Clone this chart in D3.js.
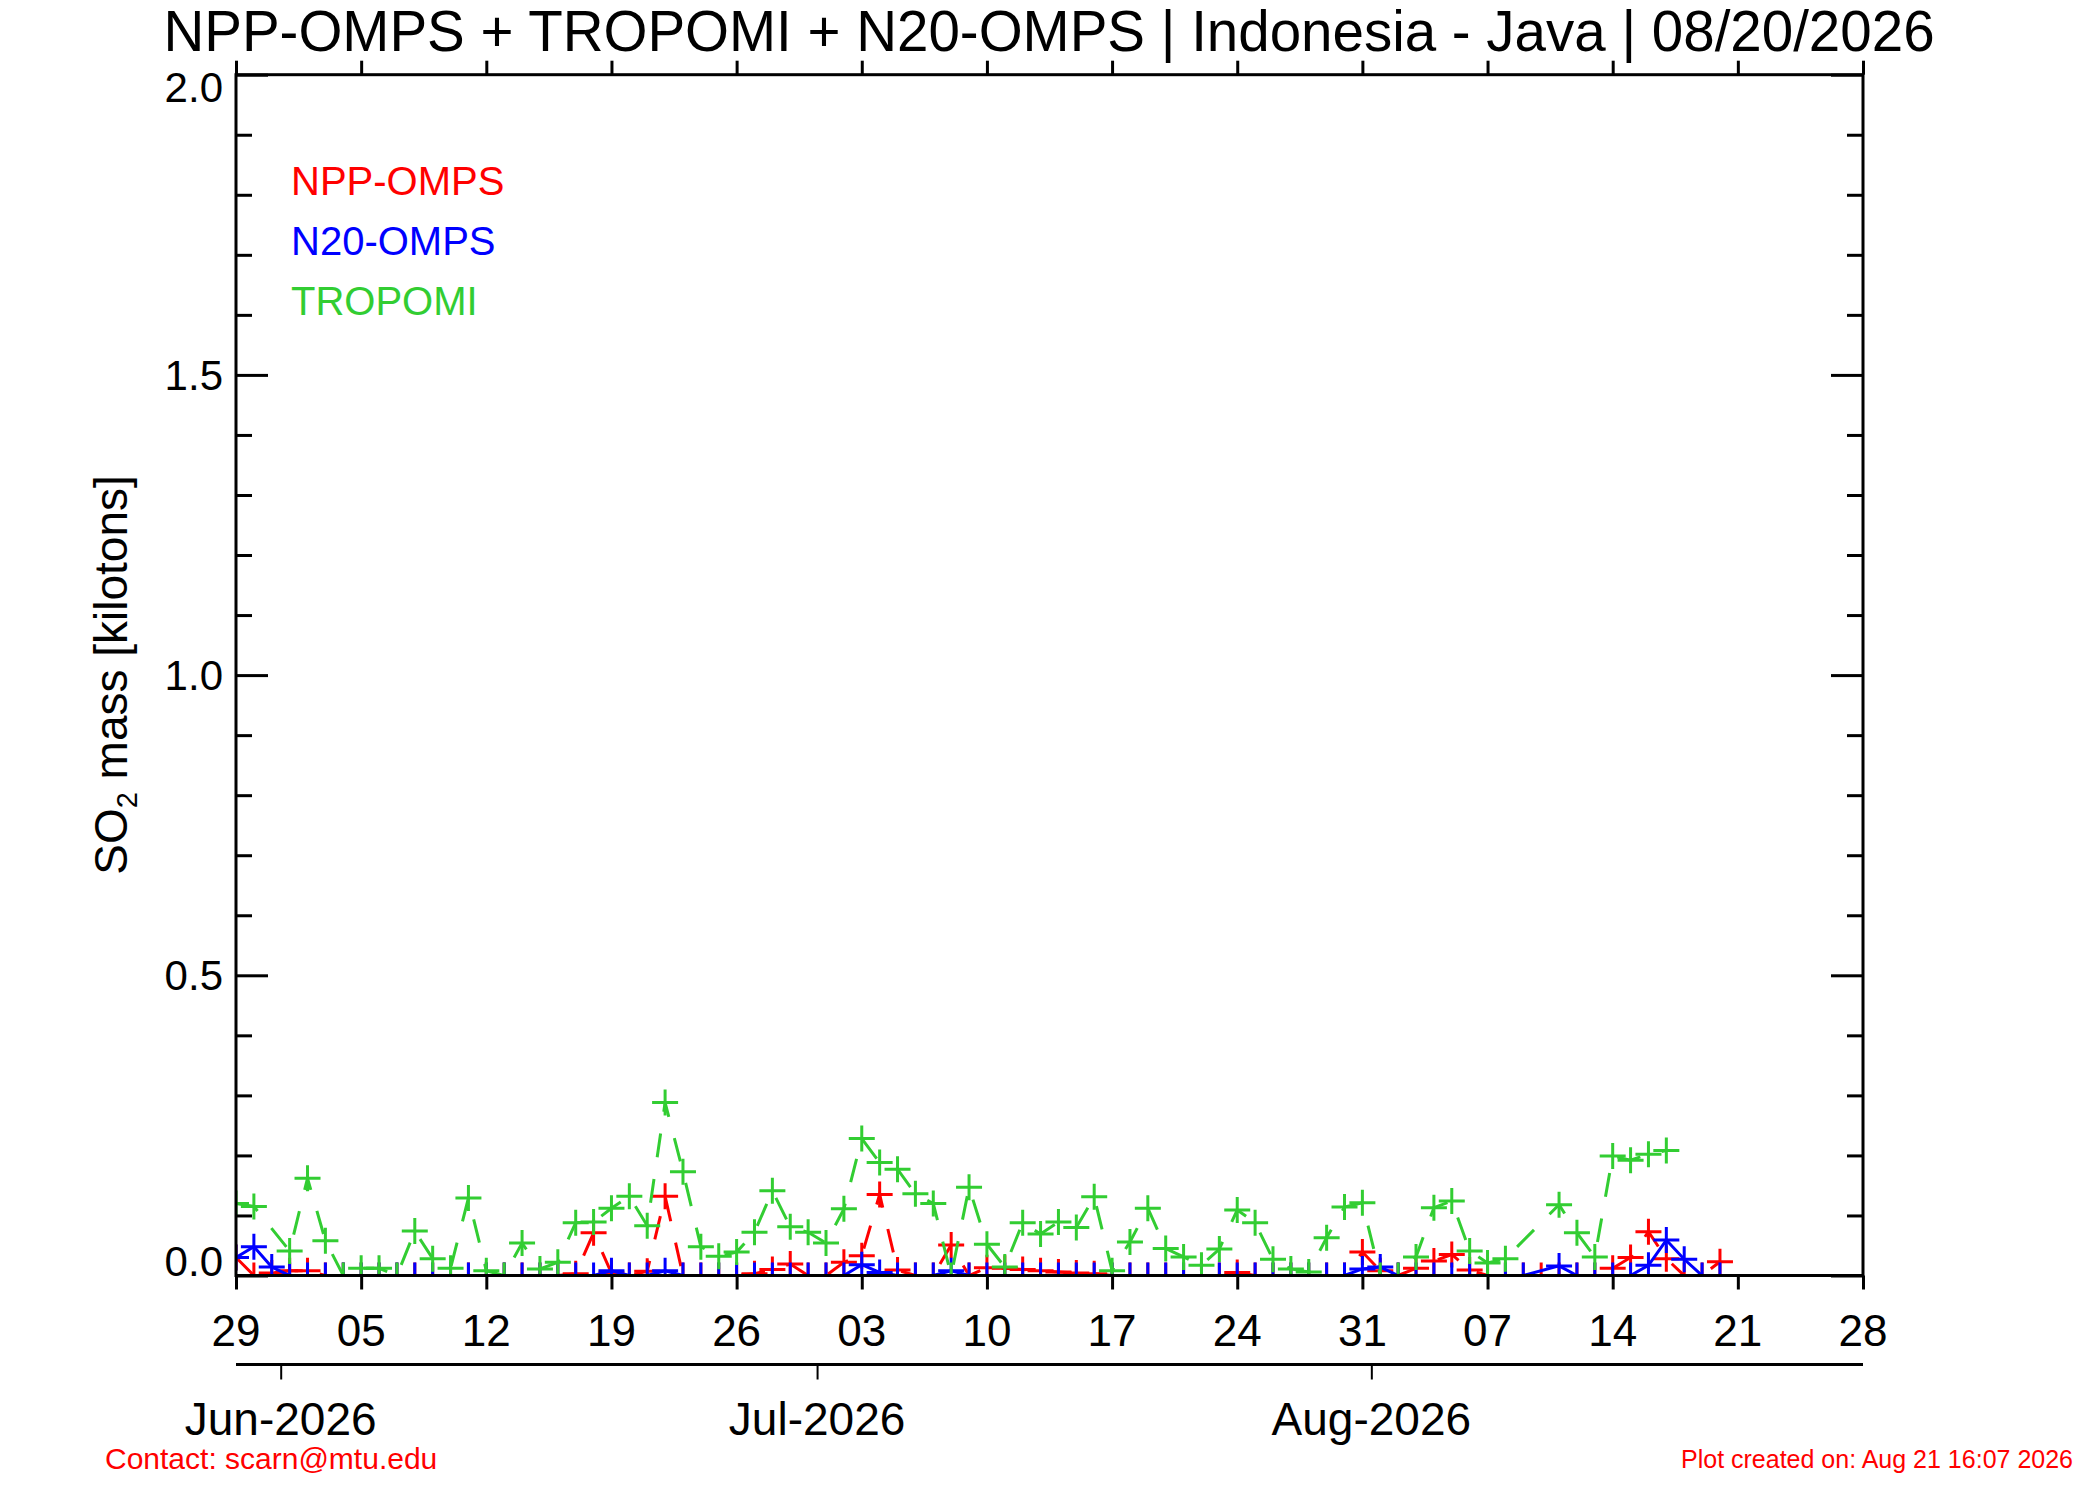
<!DOCTYPE html>
<html><head><meta charset="utf-8">
<script src="https://cdn.jsdelivr.net/npm/d3@7"></script>
<style>
body{margin:0;background:#fff}
svg{display:block}
text{font-family:"Liberation Sans",Arial,Helvetica,sans-serif}
</style>
</head><body>
<svg id="chart" width="2100" height="1500"></svg>
<script>
// ---------- data ----------
const firstDay = "2026-05-29";
const lastAxisDay = "2026-08-28";
const titleText = "NPP-OMPS + TROPOMI + N20-OMPS | Indonesia - Java | 08/20/2026";
const yLabelMain = "SO";
const yLabelSub = "2";
const yLabelRest = " mass [kilotons]";

// daily values starting 2026-05-29 (null = no observation)
const nppOmps = [
 0.03, 0, 0.004, 0.008, 0.008, 0, 0, 0, 0, 0,
 0, 0, 0, 0, 0, 0, 0, 0, 0, 0.003,
 0.071, 0.004, 0, 0.007, 0.132, 0, 0, 0, 0, 0.003,
 0.01, 0.019, 0, 0, 0.022, 0.033, 0.135, 0.009, 0, 0,
 0.051, 0, 0.013, 0.012, 0.01, 0.008, 0.006, 0.004, 0.003, 0,
 0, 0, 0, 0, 0, 0, 0.005, 0, 0, 0,
 0, 0, 0, 0.039, 0.008, 0, 0.012, 0.024, 0.035, 0.009,
 0, 0, 0, 0, 0, 0, 0, 0.012, 0.03, 0.073,
 0.028, 0, 0, 0.023];
const n20Omps = [
 0.03, 0.048, 0.014, 0, 0, 0, 0, 0, 0, 0,
 0, 0, 0, 0, 0, 0, 0, 0, 0, 0,
 0, 0.008, 0, 0, 0.008, 0, 0, 0, 0, 0,
 0, 0, 0, 0, 0, 0.018, 0.005, 0, 0, 0,
 0.008, 0, 0, 0, 0, 0, 0, 0, 0, 0,
 0, 0, 0, 0, 0, 0, 0, 0, 0, 0,
 0, 0, 0, 0.011, 0.014, 0, 0, 0, 0, 0,
 0, 0, 0, null, 0.016, 0, 0, 0, 0, 0.017,
 0.059, 0.027, 0, 0];
const tropomi = [
 0.12, 0.115, null, 0.041, 0.162, 0.058, 0.0, 0.012, 0.012, 0.0,
 0.074, 0.028, 0.012, 0.129, 0.008, 0.0, 0.054, 0.011, 0.022, 0.088,
 0.089, 0.112, 0.132, 0.083, 0.288, 0.173, 0.048, 0.032, 0.039, 0.072,
 0.141, 0.081, 0.072, 0.054, 0.111, 0.228, 0.188, 0.177, 0.136, 0.12,
 0.0, 0.147, 0.052, 0.014, 0.088, 0.069, 0.089, 0.08, 0.131, 0.008,
 0.056, 0.112, 0.045, 0.031, 0.017, 0.044, 0.109, 0.088, 0.027, 0.011,
 0.006, 0.063, 0.114, 0.121, 0.0, 0.0, 0.031, 0.113, 0.124, 0.041,
 0.021, 0.028, null, null, 0.118, 0.071, 0.031, 0.199, 0.192, 0.202,
 0.208, null, null, null];

const seriesNames = ["NPP-OMPS", "N20-OMPS", "TROPOMI"];
const seriesColors = ["#ff0000", "#0000ff", "#32cd32"];
const seriesDashed = [true, false, true];

const yMajorTicks = [0, 0.5, 1.0, 1.5, 2.0];
const yMajorLabels = ["0.0", "0.5", "1.0", "1.5", "2.0"];
const yMinorTicks = [0.1,0.2,0.3,0.4,0.6,0.7,0.8,0.9,1.1,1.2,1.3,1.4,1.6,1.7,1.8,1.9];
const weekTicks = ["2026-05-29","2026-06-05","2026-06-12","2026-06-19","2026-06-26","2026-07-03","2026-07-10",
                   "2026-07-17","2026-07-24","2026-07-31","2026-08-07","2026-08-14","2026-08-21","2026-08-28"];
const weekLabels = ["29","05","12","19","26","03","10","17","24","31","07","14","21","28"];
const monthTicks = ["2026-06-01","2026-07-01","2026-08-01"];
const monthLabels = ["Jun-2026","Jul-2026","Aug-2026"];
const contactText = "Contact: scarn@mtu.edu";
const createdText = "Plot created on: Aug 21 16:07 2026";

// ---------- layout ----------
const L = 236, R = 1863, T = 74.7, B = 1275.5;
const noon = s => new Date(s + "T12:00:00Z");
const midnight = s => new Date(s + "T00:00:00Z");

const x = d3.scaleUtc().domain([noon(firstDay), noon(lastAxisDay)]).range([L, R]);
const y = d3.scaleLinear().domain([0, 2]).range([B, T]);

const svg = d3.select("#chart");
svg.append("rect").attr("width", 2100).attr("height", 1500).attr("fill", "#fff");

const defs = svg.append("defs");
defs.append("clipPath").attr("id", "plotclip")
  .append("rect").attr("x", L).attr("y", T).attr("width", R - L).attr("height", B - T);

// ---------- series ----------
const day0 = noon(firstDay);
const toPoints = arr => arr.map((v, i) => ({date: d3.utcDay.offset(day0, i), v}))
                           .filter(d => d.v !== null);
const allSeries = [nppOmps, n20Omps, tropomi];

const line = d3.line().x(d => x(d.date)).y(d => y(d.v));
const plotG = svg.append("g").attr("clip-path", "url(#plotclip)");
allSeries.forEach((arr, k) => {
  const pts = toPoints(arr);
  const g = plotG.append("g");
  g.append("path").datum(pts).attr("d", line)
    .attr("fill", "none").attr("stroke", seriesColors[k]).attr("stroke-width", 3)
    .attr("stroke-dasharray", seriesDashed[k] ? "24,22" : null);
  g.selectAll("path.mk").data(pts).join("path").attr("class", "mk")
    .attr("d", d => `M${x(d.date) - 13},${y(d.v)}H${x(d.date) + 13}M${x(d.date)},${y(d.v) - 13}V${y(d.v) + 13}`)
    .attr("stroke", seriesColors[k]).attr("stroke-width", 3).attr("fill", "none");
});

// ---------- axes ----------
const axG = svg.append("g").attr("stroke", "#000").attr("fill", "none");
axG.append("rect").attr("x", L).attr("y", T).attr("width", R - L).attr("height", B - T)
  .attr("stroke-width", 3);

function styleAxis(g) {
  g.select(".domain").remove();
  g.selectAll("line").attr("stroke", "#000").attr("stroke-width", 3);
  g.selectAll("text").remove();
}
svg.append("g").attr("transform", `translate(${L},0)`)
  .call(d3.axisLeft(y).tickValues(yMajorTicks).tickSize(-32).tickFormat("")).call(styleAxis);
svg.append("g").attr("transform", `translate(${L},0)`)
  .call(d3.axisLeft(y).tickValues(yMinorTicks).tickSize(-16).tickFormat("")).call(styleAxis);
svg.append("g").attr("transform", `translate(${R},0)`)
  .call(d3.axisRight(y).tickValues(yMajorTicks).tickSize(-32).tickFormat("")).call(styleAxis);
svg.append("g").attr("transform", `translate(${R},0)`)
  .call(d3.axisRight(y).tickValues(yMinorTicks).tickSize(-16).tickFormat("")).call(styleAxis);

const weekDates = weekTicks.map(noon);
svg.append("g").attr("transform", `translate(0,${B})`)
  .call(d3.axisBottom(x).tickValues(weekDates).tickSize(14).tickFormat("")).call(styleAxis);
svg.append("g").attr("transform", `translate(0,${T})`)
  .call(d3.axisTop(x).tickValues(weekDates).tickSize(14).tickFormat("")).call(styleAxis);

// y labels
svg.append("g").selectAll("text").data(yMajorTicks).join("text")
  .attr("x", L - 13)
  .attr("y", (d, i) => i === 0 ? y(d) : (i === yMajorTicks.length - 1 ? y(d) + 27 : y(d) + 15))
  .attr("text-anchor", "end").attr("font-size", 42).attr("fill", "#000")
  .text((d, i) => yMajorLabels[i]);

// week labels
svg.append("g").selectAll("text").data(weekDates).join("text")
  .attr("x", d => x(d)).attr("y", 1346)
  .attr("text-anchor", "middle").attr("font-size", 44).attr("fill", "#000")
  .text((d, i) => weekLabels[i]);

// month axis
const mY = 1364.5;
svg.append("line").attr("x1", L).attr("x2", R).attr("y1", mY).attr("y2", mY)
  .attr("stroke", "#000").attr("stroke-width", 3);
const monthDates = monthTicks.map(midnight);
svg.append("g").attr("transform", `translate(0,${mY})`)
  .call(d3.axisBottom(x).tickValues(monthDates).tickSize(15).tickFormat("")).call(g => {
    g.select(".domain").remove();
    g.selectAll("line").attr("stroke", "#000").attr("stroke-width", 2);
  });
svg.append("g").selectAll("text").data(monthDates).join("text")
  .attr("x", d => x(d)).attr("y", 1435)
  .attr("text-anchor", "middle").attr("font-size", 46).attr("fill", "#000")
  .text((d, i) => monthLabels[i]);

// title
svg.append("text").attr("x", 1049).attr("y", 51).attr("text-anchor", "middle")
  .attr("font-size", 56.5).attr("fill", "#000").text(titleText);

// y axis title
const yt = svg.append("text").attr("transform", "translate(127,675) rotate(-90)")
  .attr("text-anchor", "middle").attr("font-size", 46).attr("fill", "#000");
yt.append("tspan").text(yLabelMain);
yt.append("tspan").attr("font-size", 29).attr("dy", 10).text(yLabelSub);
yt.append("tspan").attr("dy", -10).text(yLabelRest);

// legend
svg.append("g").selectAll("text").data(seriesNames).join("text")
  .attr("x", 291).attr("y", (d, i) => 195 + i * 60)
  .attr("font-size", 40).attr("fill", (d, i) => seriesColors[i])
  .text(d => d);

// footer
svg.append("text").attr("x", 105).attr("y", 1469).attr("font-size", 30).attr("fill", "#ff0000").text(contactText);
svg.append("text").attr("x", 2073).attr("y", 1468).attr("text-anchor", "end")
  .attr("font-size", 25).attr("fill", "#ff0000").text(createdText);
</script>
</body></html>
